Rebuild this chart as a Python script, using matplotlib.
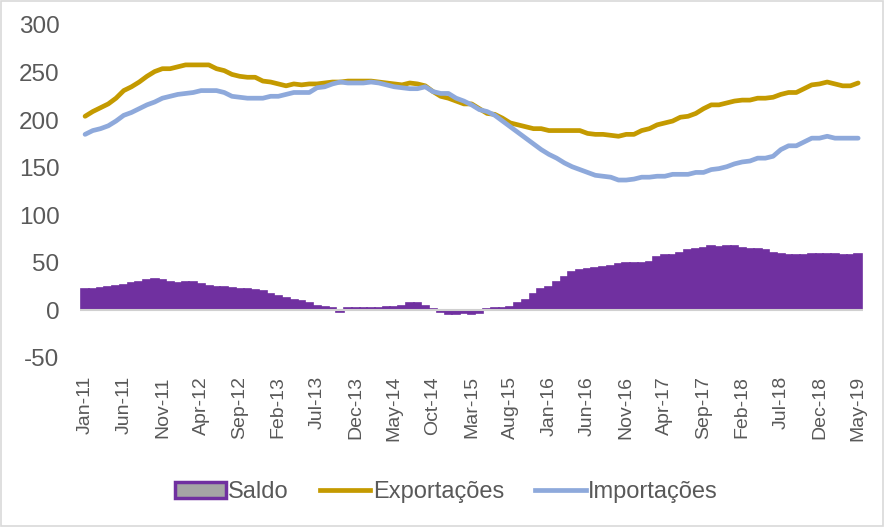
import matplotlib
matplotlib.use('Agg')
import matplotlib.pyplot as plt
from matplotlib.patches import Patch, Rectangle
from matplotlib.lines import Line2D

plt.rcParams['font.family'] = ['Liberation Sans', 'DejaVu Sans']
plt.rcParams['axes.unicode_minus'] = False

tick_labels = ['Jan-11', 'Jun-11', 'Nov-11', 'Apr-12', 'Sep-12', 'Feb-13', 'Jul-13',
               'Dec-13', 'May-14', 'Oct-14', 'Mar-15', 'Aug-15', 'Jan-16', 'Jun-16',
               'Nov-16', 'Apr-17', 'Sep-17', 'Feb-18', 'Jul-18', 'Dec-18', 'May-19']

# monthly values Jan-11 .. May-19 (101 months)
exportacoes = [204, 209, 213, 217, 223, 231, 235, 240, 246, 251,
               254, 254, 256, 258, 258, 258, 258, 254, 252, 248,
               246, 245, 245, 241, 240, 238, 236, 238, 237, 238,
               238, 239, 240, 240, 241, 241, 241, 241, 240, 239,
               238, 237, 239, 238, 236, 230, 225, 223, 220, 217,
               217, 212, 207, 206, 202, 197, 195, 193, 191, 191,
               189, 189, 189, 189, 189, 186, 185, 185, 184, 183,
               185, 185, 189, 191, 195, 197, 199, 203, 204, 207,
               212, 216, 216, 218, 220, 221, 221, 223, 223, 224,
               227, 229, 229, 233, 237, 238, 240, 238, 236, 236, 239]
importacoes = [185, 189, 191, 194, 199, 205, 208, 212, 216, 219,
               223, 225, 227, 228, 229, 231, 231, 231, 229, 225,
               224, 223, 223, 223, 225, 225, 227, 229, 229, 229,
               234, 235, 238, 240, 239, 239, 239, 240, 239, 237,
               235, 234, 233, 233, 235, 230, 228, 228, 223, 220,
               216, 211, 209, 205, 199, 193, 187, 181, 175, 169,
               164, 160, 155, 151, 148, 145, 142, 141, 140, 137,
               137, 138, 140, 140, 141, 141, 143, 143, 143, 145,
               145, 148, 149, 151, 154, 156, 157, 160, 160, 162,
               169, 173, 173, 177, 181, 181, 183, 181, 181, 181, 181]
saldo = [23, 23, 24, 25, 26, 27, 29, 30, 32, 33,
         32, 30, 29, 30, 30, 28, 26, 25, 25, 24,
         23, 22, 21, 20, 17, 15, 13, 11, 10, 8,
         5, 4, 3, -2, 3, 3, 3, 3, 3, 4,
         4, 5, 8, 8, 5, 2, -2, -4, -4, -3,
         -4, -3, 2, 3, 3, 4, 8, 11, 17, 22,
         25, 30, 35, 40, 42, 44, 45, 46, 47, 49,
         50, 50, 50, 51, 56, 58, 58, 60, 63, 65,
         66, 68, 67, 68, 68, 66, 65, 65, 63, 60,
         59, 58, 58, 58, 59, 59, 59, 59, 58, 58, 59]

purple = '#7030A0'
gold = '#C49A00'
blue = '#8EA9DB'
text_c = '#595959'

fig = plt.figure(figsize=(8.84, 5.27), dpi=100)
ax = fig.add_axes([0.091, 0.3207, 0.885, 0.632])

x = list(range(len(saldo)))
ax.bar(x, saldo, width=1.0, color=purple, edgecolor=purple, linewidth=1.2, zorder=2)
ax.axhline(0, color='#d0d0d0', lw=1.5, zorder=3)
ax.plot(x, exportacoes, color=gold, lw=3.4, solid_capstyle='round', zorder=4)
ax.plot(x, importacoes, color=blue, lw=3.4, solid_capstyle='round', zorder=4)

ax.set_ylim(-50, 300)
ax.set_yticks(range(-50, 301, 50))
ax.set_xlim(-0.6, 100.6)
ax.set_xticks(range(0, 101, 5))
ax.set_xticklabels(tick_labels, rotation=90)
ax.tick_params(axis='y', length=0, pad=15, labelsize=17.5, labelcolor=text_c)
ax.tick_params(axis='x', length=0, pad=13, labelsize=14, labelcolor=text_c)
for s in ax.spines.values():
    s.set_visible(False)

handles = [Patch(facecolor='#a5a5a5', edgecolor=purple, linewidth=2.5),
           Line2D([0], [0], color=gold, lw=3.4),
           Line2D([0], [0], color=blue, lw=3.4)]
fig.legend(handles, ['Saldo', 'Exportações', 'Importações'], loc='center',
           bbox_to_anchor=(0.505, 0.066), ncol=3, frameon=False, fontsize=17,
           labelcolor=text_c, handlelength=2.15, handletextpad=0.1, columnspacing=1.3)

fig.patches.append(Rectangle((0.001, 0.001), 0.998, 0.998, transform=fig.transFigure,
                             fill=False, edgecolor='#d9d9d9', lw=1.2))

fig.savefig('out.png', dpi=100, facecolor='white')
